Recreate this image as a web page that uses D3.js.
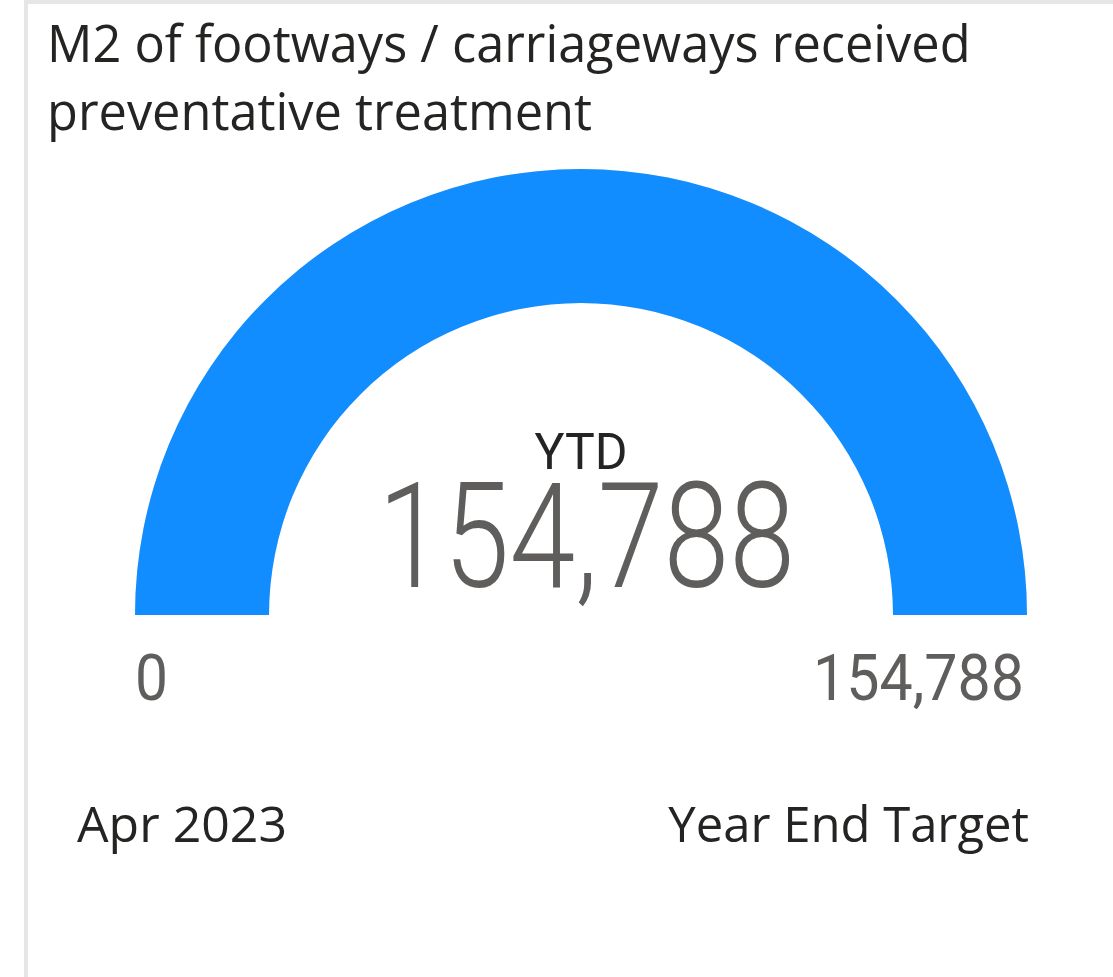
<!DOCTYPE html>
<html>
<head>
<meta charset="utf-8">
<script src="https://cdn.jsdelivr.net/npm/d3@7"></script>
<style>
    html, body { margin: 0; padding: 0; background: #fff; }
    svg { display: block; }
</style>
</head>
<body>
<svg id="chart" width="1113" height="977"></svg>
<script>
let titleLines = ['M2 of footways / carriageways received', 'preventative treatment'];
let gaugeValue = [154788];
let gaugeMin = [0];
let gaugeMax = [154788];
let valueLabel = ['YTD'];
let minLabel = ['Apr 2023'];
let maxLabel = ['Year End Target'];

let fmt = d3.format(',');
let svg = d3.select('#chart');

/* card frame */
svg.append('rect')
    .attr('x', 26).attr('y', 2)
    .attr('width', 1200).attr('height', 1100)
    .attr('fill', '#fff')
    .attr('stroke', '#e6e6e6')
    .attr('stroke-width', 4);

/* title */
let title = svg.append('g');
titleLines.forEach((t, i) => {
    title.append('text')
        .attr('x', 47)
        .attr('y', 62 + i * 68)
        .attr('font-family', '"Open Sans", sans-serif')
        .attr('font-size', 50.5)
        .attr('fill', '#252423')
        .text(t);
});

/* gauge */
let cx = 581, cy = 615, outerR = 446, innerR = 312;
let angle = d3.scaleLinear()
    .domain([gaugeMin[0], gaugeMax[0]])
    .range([-Math.PI / 2, Math.PI / 2])
    .clamp(true);

let arc = d3.arc().innerRadius(innerR).outerRadius(outerR);
let g = svg.append('g').attr('transform', `translate(${cx},${cy})`);

g.append('path')
    .attr('d', arc({startAngle: angle(gaugeMin[0]), endAngle: angle(gaugeMax[0])}))
    .attr('fill', '#e6e6e6');
g.append('path')
    .attr('d', arc({startAngle: angle(gaugeMin[0]), endAngle: angle(gaugeValue[0])}))
    .attr('fill', '#118dff');

/* center labels */
svg.append('text')
    .attr('x', cx).attr('y', 469)
    .attr('text-anchor', 'middle')
    .attr('font-family', 'Roboto, sans-serif')
    .attr('font-size', 50)
    .attr('fill', '#252423')
    .text(valueLabel[0]);

svg.append('text')
    .attr('x', 378).attr('y', 587)
    .attr('font-family', 'Roboto, sans-serif')
    .attr('font-weight', 300)
    .attr('font-size', 146)
    .attr('fill', '#605e5c')
    .attr('textLength', 417)
    .attr('lengthAdjust', 'spacingAndGlyphs')
    .text(fmt(gaugeValue[0]));

/* min / max values */
svg.append('text')
    .attr('x', cx - outerR).attr('y', 700)
    .attr('font-family', 'Roboto, sans-serif')
    .attr('font-size', 64)
    .attr('fill', '#605e5c')
    .attr('textLength', 33)
    .attr('lengthAdjust', 'spacingAndGlyphs')
    .text(fmt(gaugeMin[0]));

svg.append('text')
    .attr('x', 813).attr('y', 700)
    .attr('font-family', 'Roboto, sans-serif')
    .attr('font-size', 64)
    .attr('fill', '#605e5c')
    .attr('textLength', 211)
    .attr('lengthAdjust', 'spacingAndGlyphs')
    .text(fmt(gaugeMax[0]));

/* min / max labels */
svg.append('text')
    .attr('x', 77).attr('y', 842)
    .attr('font-family', '"Open Sans", sans-serif')
    .attr('font-size', 50)
    .attr('fill', '#252423')
    .text(minLabel[0]);

svg.append('text')
    .attr('x', 1029).attr('y', 842)
    .attr('text-anchor', 'end')
    .attr('font-family', '"Open Sans", sans-serif')
    .attr('font-size', 49)
    .attr('fill', '#252423')
    .text(maxLabel[0]);
</script>
</body>
</html>
